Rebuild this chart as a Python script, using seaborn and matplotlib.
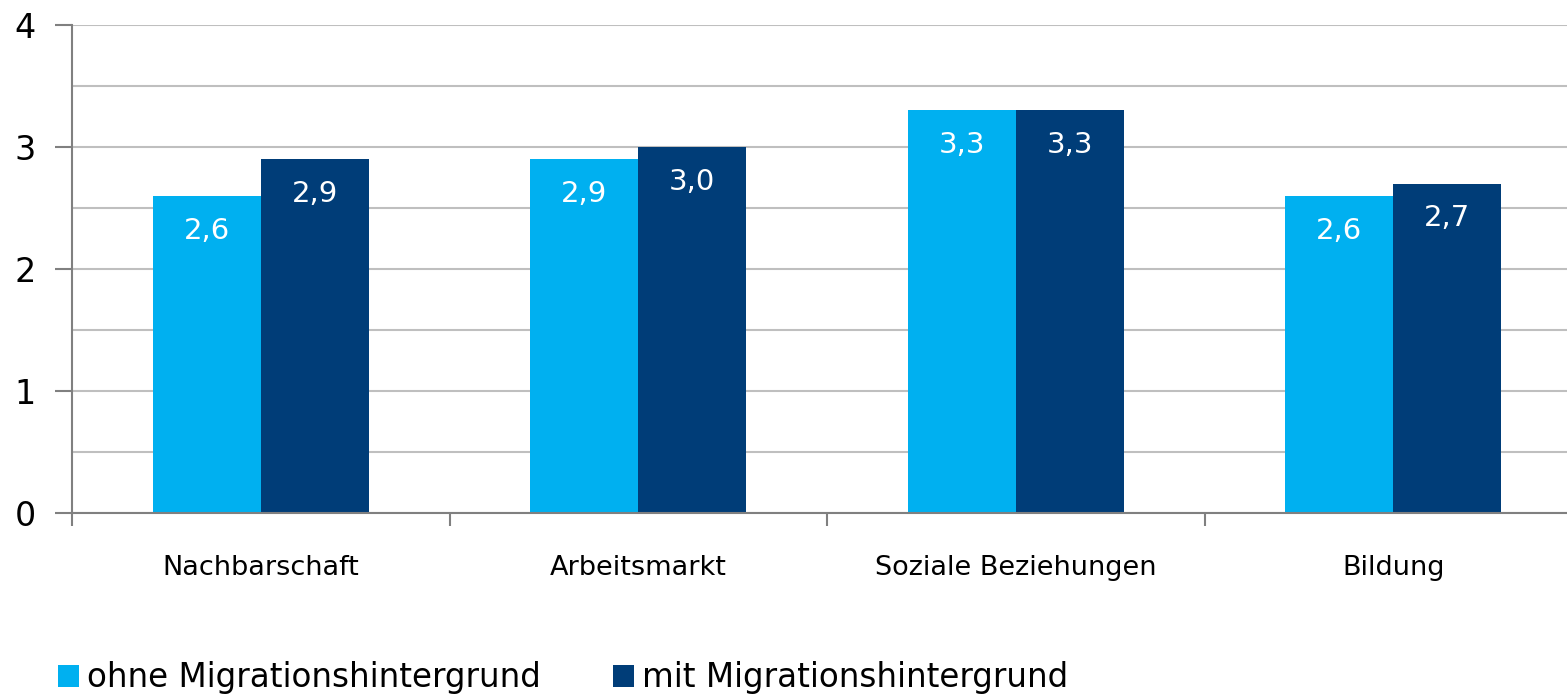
import pandas as pd
import numpy as np
import matplotlib.pyplot as plt
import seaborn as sns
from matplotlib.patches import Patch

categories = ['Nachbarschaft', 'Arbeitsmarkt', 'Soziale Beziehungen', 'Bildung']
groups = ['ohne Migrationshintergrund', 'mit Migrationshintergrund']
ohne_values = [2.6, 2.9, 3.3, 2.6]
mit_values = [2.9, 3.0, 3.3, 2.7]
y_ticks = [0, 1, 2, 3, 4]

colors = ['#00B0F0', '#003D78']

df = pd.DataFrame({
    'Bereich': categories * 2,
    'Gruppe': [groups[0]] * len(categories) + [groups[1]] * len(categories),
    'Wert': ohne_values + mit_values,
})

sns.set_style('white')
plt.rcParams['font.family'] = ['DejaVu Sans']
plt.rcParams['text.color'] = 'black'
plt.rcParams['xtick.color'] = 'black'
plt.rcParams['ytick.color'] = 'black'

fig = plt.figure(figsize=(15.67, 6.99), dpi=100)
ax = fig.add_axes([72 / 1567, 1 - 513 / 699, (1582 - 72) / 1567, (513 - 25) / 699])

sns.barplot(data=df, x='Bereich', y='Wert', hue='Gruppe', palette=colors,
            width=0.572, saturation=1, ax=ax, legend=False, errorbar=None,
            linewidth=0, edgecolor='none')

for container in ax.containers:
    for bar in container:
        h = bar.get_height()
        ax.annotate(f'{h:.1f}'.replace('.', ','),
                    (bar.get_x() + bar.get_width() / 2, h),
                    xytext=(0, -25), textcoords='offset points',
                    ha='center', va='center', color='white', fontsize=21)

ax.set_xlim(-0.5, 3.5)
ax.set_ylim(0, 4)
ax.set_yticks(y_ticks)
ax.set_yticks(np.arange(0.5, 4, 1), minor=True)
ax.grid(axis='y', which='both', color='#BFBFBF', linewidth=1.5)
ax.set_axisbelow(True)

ax.set_xticks(np.arange(-0.5, 4, 1), minor=True)
ax.tick_params(axis='x', which='major', bottom=True, length=0, pad=30, labelsize=19.5,
               labelcolor='black')
ax.tick_params(axis='x', which='minor', bottom=True, length=9, width=1.5, color='#808080',
               direction='out')
ax.tick_params(axis='y', which='major', left=True, length=12, width=1.5, color='#808080',
               direction='out', pad=14, labelsize=24, labelcolor='black')
ax.tick_params(axis='y', which='minor', left=False, length=0)
ax.set_xlabel('')
ax.set_ylabel('')

for side in ['top', 'right']:
    ax.spines[side].set_visible(False)
for side in ['left', 'bottom']:
    ax.spines[side].set_color('#808080')
    ax.spines[side].set_linewidth(1.5)

handles = [Patch(facecolor=c, edgecolor='none') for c in colors]
fig.legend(handles, groups, loc='lower left', bbox_to_anchor=(0.018, -0.035), ncol=2,
           frameon=False, fontsize=23.5, handlelength=0.65, handleheight=0.65,
           handletextpad=0.25, columnspacing=2.2, labelcolor='black')

fig.savefig('out.png', dpi=100)
